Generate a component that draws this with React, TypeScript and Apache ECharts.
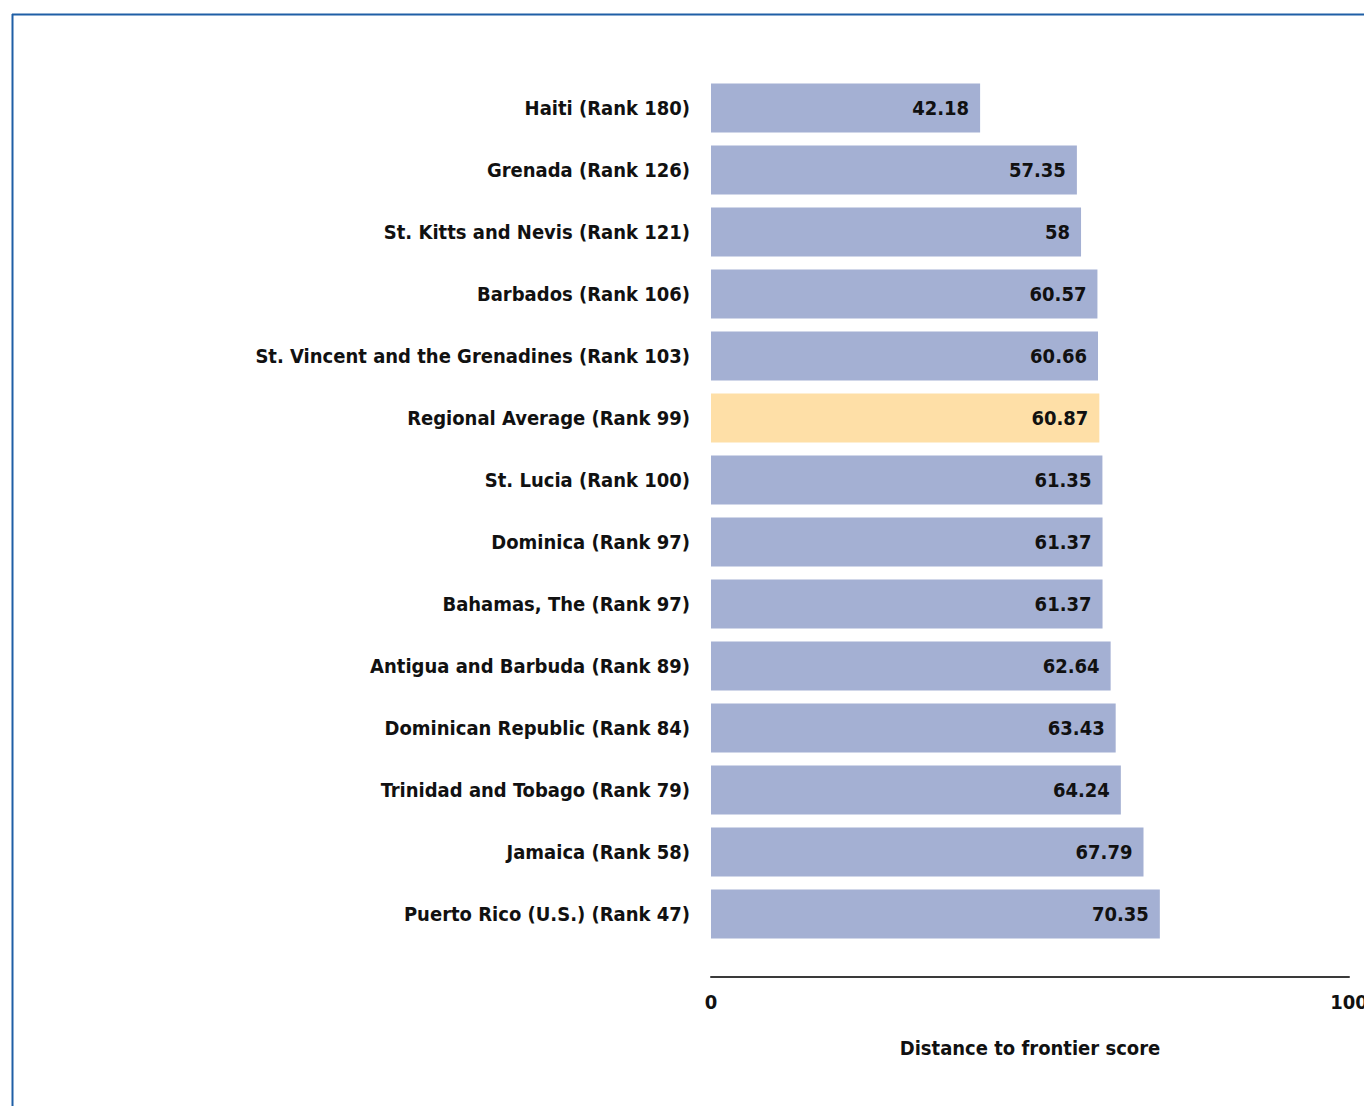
import React, { useEffect, useRef } from "react";
import * as echarts from "echarts";

const categories = [
  "Haiti (Rank 180)",
  "Grenada (Rank 126)",
  "St. Kitts and Nevis (Rank 121)",
  "Barbados (Rank 106)",
  "St. Vincent and the Grenadines (Rank 103)",
  "Regional Average (Rank 99)",
  "St. Lucia (Rank 100)",
  "Dominica (Rank 97)",
  "Bahamas, The (Rank 97)",
  "Antigua and Barbuda (Rank 89)",
  "Dominican Republic (Rank 84)",
  "Trinidad and Tobago (Rank 79)",
  "Jamaica (Rank 58)",
  "Puerto Rico (U.S.) (Rank 47)",
];
const values = [42.18, 57.35, 58, 60.57, 60.66, 60.87, 61.35, 61.37, 61.37, 62.64, 63.43, 64.24, 67.79, 70.35];
const highlightCategory = "Regional Average (Rank 99)";
const axisTicks = [0, 100];
const axisTitle = "Distance to frontier score";

const FONT = "'DejaVu Sans Condensed', 'DejaVu Sans', sans-serif";
const FS = 20;

export default function App() {
  const ref = useRef<HTMLDivElement>(null);
  useEffect(() => {
    if (!ref.current) return;
    const chart = echarts.init(ref.current, undefined, { renderer: "svg" });
    chart.setOption({
      animation: false,
      backgroundColor: "#ffffff",
      grid: { left: 711, right: 15, top: 77, bottom: 161, containLabel: false, outerBoundsMode: "none" },
      xAxis: {
        type: "value",
        min: axisTicks[0],
        max: axisTicks[axisTicks.length - 1],
        interval: 100,
        position: "bottom",
        offset: 32,
        axisLine: { show: true, lineStyle: { color: "#3a3a3a", width: 2 } },
        axisTick: { show: false },
        splitLine: { show: false },
        axisLabel: {
          margin: 15,
          color: "#111111",
          fontFamily: FONT,
          fontWeight: "bold",
          fontSize: FS,
        },
        name: axisTitle,
        nameLocation: "middle",
        nameGap: 61,
        nameTextStyle: { color: "#111111", fontFamily: FONT, fontWeight: "bold", fontSize: FS },
      },
      yAxis: {
        type: "category",
        data: categories,
        inverse: true,
        axisLine: { show: false },
        axisTick: { show: false },
        axisLabel: {
          margin: 21,
          color: "#111111",
          fontFamily: FONT,
          fontWeight: "bold",
          fontSize: FS,
        },
      },
      series: [
        {
          type: "bar",
          data: values.map((v, i) => ({
            value: v,
            itemStyle: { color: categories[i] === highlightCategory ? "#fedfa7" : "#a4b0d3" },
          })),
          barCategoryGap: "21%",
          label: {
            show: true,
            position: "insideRight",
            distance: 11,
            color: "#111111",
            fontFamily: FONT,
            fontWeight: "bold",
            fontSize: FS,
          },
        },
      ],
      graphic: [
        { type: "line", shape: { x1: 12, y1: 14.5, x2: 1364, y2: 14.5 }, style: { stroke: "#1f5fa6", lineWidth: 2 } },
        { type: "line", shape: { x1: 12.5, y1: 14, x2: 12.5, y2: 1106 }, style: { stroke: "#1f5fa6", lineWidth: 2 } },
      ],
    });
    return () => chart.dispose();
  }, []);
  return <div ref={ref} style={{ position: "fixed", left: 0, top: 0, width: 1364, height: 1106 }} />;
}
